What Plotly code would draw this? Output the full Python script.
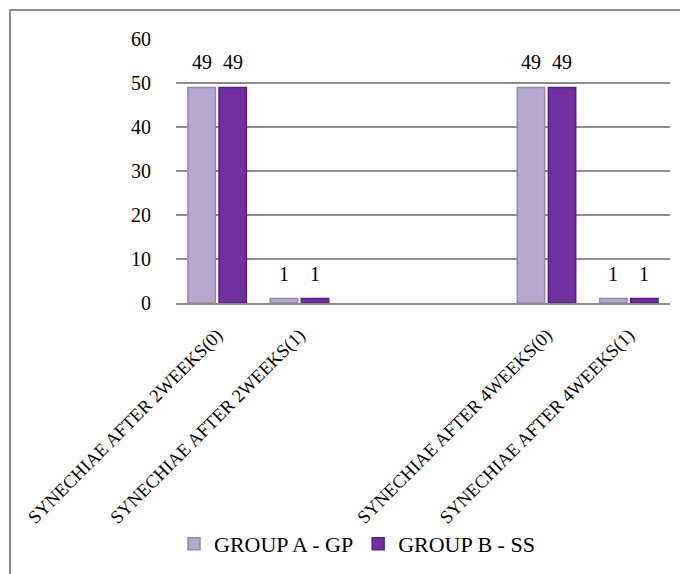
import plotly.graph_objects as go

# Categories (two blank slots separate the 2-week and 4-week results)
categories = [
    "SYNECHIAE AFTER 2WEEKS(0)",
    "SYNECHIAE AFTER 2WEEKS(1)",
    " ",
    "  ",
    "SYNECHIAE AFTER 4WEEKS(0)",
    "SYNECHIAE AFTER 4WEEKS(1)",
]
group_a = [49, 1, None, None, 49, 1]
group_b = [49, 1, None, None, 49, 1]
series_names = ["GROUP A - GP", "GROUP B - SS"]
y_ticks = [0, 10, 20, 30, 40, 50, 60]

FONT = "Liberation Serif"
GRID = "#8c8c8c"

W, H = 680, 574
L, R, T, B = 176, 10, 39, 270
pw, ph = W - L - R, H - T - B
BARGAP, BARGROUPGAP = 0.245, 0.12

fig = go.Figure()
series = [
    (series_names[0], group_a, "#b8a8d0", "#9585ad"),
    (series_names[1], group_b, "#7030a0", "#55207d"),
]
for name, vals, fill, edge in series:
    fig.add_trace(go.Bar(
        x=categories, y=vals, name=name,
        marker=dict(color=fill, line=dict(color=edge, width=1.5)),
    ))

# Value labels above each bar, offset to the bar's slot within its group
cat_w = pw / len(categories)
slot = cat_w * (1 - BARGAP) / len(series)
annotations = []
for i, (_, vals, _, _) in enumerate(series):
    dx = (i - (len(series) - 1) / 2) * slot
    for c, v in zip(categories, vals):
        if v is None:
            continue
        annotations.append(dict(
            x=c, y=v, xref="x", yref="y", text=str(v), showarrow=False,
            xshift=dx, yshift=25, yanchor="middle",
            font=dict(family=FONT, size=20, color="#000"),
        ))


def px_x(p):
    return (p - L) / pw


def px_y(p):
    return 1 - (p - T) / ph


fig.update_layout(
    width=W, height=H,
    margin=dict(l=L, r=R, t=T, b=B),
    paper_bgcolor="white", plot_bgcolor="white",
    barmode="group", bargap=BARGAP, bargroupgap=BARGROUPGAP,
    font=dict(family=FONT, color="#000"),
    showlegend=True,
    legend=dict(
        orientation="h", x=px_x(357), y=px_y(544),
        xanchor="center", yanchor="middle",
        bgcolor="rgba(0,0,0,0)",
        font=dict(family=FONT, size=22, color="#000"),
        tracegroupgap=0, itemwidth=30,
    ),
    xaxis=dict(
        type="category", categoryorder="array", categoryarray=categories,
        tickangle=-45, tickfont=dict(family=FONT, size=18.5, color="#000"),
        showline=True, linecolor=GRID, linewidth=2,
        ticks="", showgrid=False, ticklabelstandoff=12,
    ),
    yaxis=dict(
        range=[0, 60], tickvals=y_ticks,
        tickfont=dict(family=FONT, size=20, color="#000"),
        showgrid=True, gridcolor=GRID, gridwidth=1.5,
        zeroline=False, showline=False, ticks="",
        ticklabelstandoff=24,
    ),
    annotations=annotations,
    shapes=[dict(
        type="rect", xref="paper", yref="paper",
        x0=px_x(10), x1=px_x(700), y0=px_y(600), y1=px_y(10),
        line=dict(color="#8c8c8c", width=2), fillcolor="rgba(0,0,0,0)",
        layer="below",
    )],
)

fig.write_html("out.html")
